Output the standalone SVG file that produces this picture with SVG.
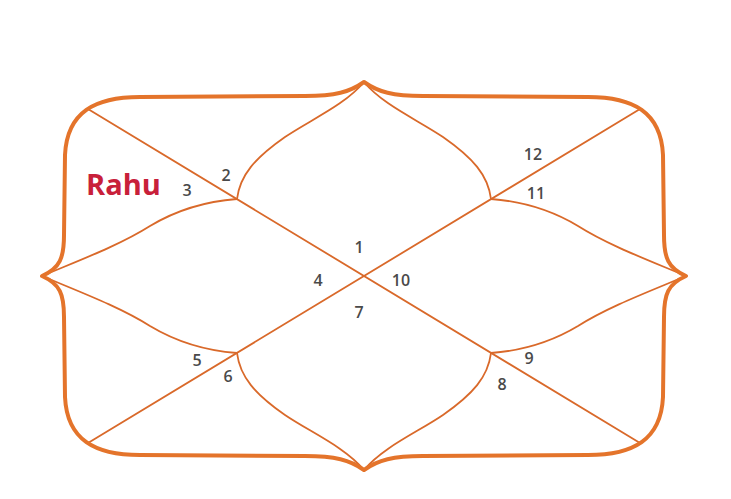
<svg xmlns="http://www.w3.org/2000/svg" width="731" height="499" viewBox="0 0 731 499">
<style>
.frame{fill:none;stroke:#E4742B;stroke-width:4;stroke-linejoin:round}
.ln{fill:none;stroke:#D9692A;stroke-width:1.8;stroke-linecap:round}
.num{font-family:"Open Sans","Liberation Sans",sans-serif;font-size:16px;font-weight:600;fill:#4a4a4a;text-anchor:middle}
.planet{font-family:"Open Sans","Liberation Sans",sans-serif;font-size:29px;font-weight:700;fill:#C8203A}
</style>
<rect width="731" height="499" fill="#ffffff"/>
<g id="connectors">
<path class="ln" d="M88,109 L640,443"/>
<path class="ln" d="M640,109 L88,443"/>
<path class="ln" d="M364,82 C345,105 310,120 285,137 C255,158 240,175 237,199"/>
<path class="ln" d="M42,276 C80,260 120,245 150,226 C180,208 210,201 237,199"/>
<path class="ln" d="M364,82 C383,105 418,120 443,137 C473,158 488,175 491,199"/>
<path class="ln" d="M686,276 C648,260 608,245 578,226 C548,208 518,201 491,199"/>
<path class="ln" d="M364,470 C383,447 418,432 443,415 C473,394 488,377 491,353"/>
<path class="ln" d="M686,276 C648,292 608,307 578,326 C548,344 518,351 491,353"/>
<path class="ln" d="M364,470 C345,447 310,432 285,415 C255,394 240,377 237,353"/>
<path class="ln" d="M42,276 C80,292 120,307 150,326 C180,344 210,351 237,353"/>
</g>
<g id="frame">
<path class="frame" d="M42,276 C60,268 64,258 64,235 L65,155 C67,112 95,97 140,97 L305,96 C335,96 350,92 364,82 C378,92 393,96 423,96 L588,97 C633,97 661,112 663,155 L664,235 C664,258 668,268 686,276 C668,284 664,294 664,317 L663,397 C661,440 633,455 588,455 L423,456 C393,456 378,460 364,470 C350,460 335,456 305,456 L140,455 C95,455 67,440 65,397 L64,317 C64,294 60,284 42,276 Z"/>
</g>
<g id="house1"><text class="num" x="359" y="253">1</text></g>
<g id="house2"><text class="num" x="226" y="181">2</text></g>
<g id="house3"><text class="num" x="187" y="196">3</text><text class="planet" x="86" y="195">Rahu</text></g>
<g id="house4"><text class="num" x="318" y="286">4</text></g>
<g id="house5"><text class="num" x="197" y="366">5</text></g>
<g id="house6"><text class="num" x="228" y="382">6</text></g>
<g id="house7"><text class="num" x="359" y="318">7</text></g>
<g id="house8"><text class="num" x="502" y="390">8</text></g>
<g id="house9"><text class="num" x="529" y="364">9</text></g>
<g id="house10"><text class="num" x="401" y="286">10</text></g>
<g id="house11"><text class="num" x="536" y="199">11</text></g>
<g id="house12"><text class="num" x="533" y="160">12</text></g>
</svg>
